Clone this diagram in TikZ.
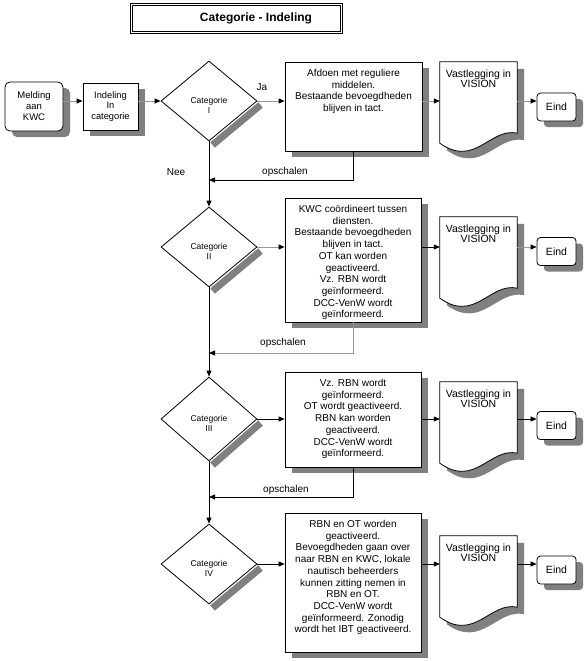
\documentclass[tikz,border=0pt]{standalone}
\usepackage{fontspec}
\setmainfont{Liberation Sans}
\usetikzlibrary{shapes.geometric,shadows,arrows.meta}
\definecolor{shd}{RGB}{128,128,128}
\definecolor{lgr}{RGB}{150,150,150}
\newcommand{\docpath}[3]{([shift={(#2,#3)}]#1.north west) -- ([shift={(#2,#3)}]#1.north east) -- ([shift={(#2,#3)},yshift=10pt]#1.south east) .. controls ([shift={(#2,#3)},xshift=-27pt,yshift=16pt]#1.south east) and ([shift={(#2,#3)},xshift=35pt,yshift=-25pt]#1.south west) .. ([shift={(#2,#3)}]#1.south west) -- cycle}
\begin{document}
\begin{tikzpicture}[x=1pt,y=-1pt,
  shadowed/.style={drop shadow={shadow xshift=7pt,shadow yshift=-6pt,fill=shd,opacity=1}},
  box/.style={draw,fill=white,line width=0.8pt,inner sep=0pt,shadowed},
  btxt/.style={font=\fontsize{10}{11.7}\selectfont,align=center,inner sep=1pt,anchor=north},
  dtxt/.style={font=\fontsize{10.5}{10.5}\selectfont,align=center,inner sep=1pt,anchor=north},
  diam/.style={diamond,draw,fill=white,line width=0.8pt,minimum width=96pt,minimum height=80pt,inner sep=0pt},
  dlab/.style={font=\fontsize{8.5}{10}\selectfont,align=center,yshift=-4.5pt},
  docn/.style={minimum width=77pt,minimum height=81pt,inner sep=0pt},
  eind/.style={box,rounded corners=3.5pt,minimum width=39pt,minimum height=28pt,font=\fontsize{10.5}{12}\selectfont},
  lbl/.style={font=\fontsize{10}{12}\selectfont,inner sep=0pt},
  arr/.style={line width=0.8pt,-{Triangle[length=6pt,width=5pt,color=black]}},
  arrg/.style={arr,draw=lgr},
  band/.style={draw=shd,line width=7pt,line cap=butt}]
\useasboundingbox (0,0) rectangle (586,661);

% title
\node[draw,double,double distance=1.2pt,line width=0.7pt,minimum width=210.4pt,minimum height=28.4pt,inner sep=0pt] (tbox) at (236.5,18.5) {};
\node[font=\fontsize{12}{14}\selectfont\bfseries,inner sep=0pt] (ttl) at (256,18.5) {Categorie - Indeling};

% start
\node[box,rounded corners=5pt,minimum width=58pt,minimum height=49pt,font=\fontsize{9.5}{11}\selectfont,align=center] (mel) at (34,106.5) {Melding\\aan\\KWC};
\node[box,minimum width=55pt,minimum height=47pt,font=\fontsize{9.3}{10.8}\selectfont,align=center] (ind) at (110.5,106.5) {Indeling\\In\\categorie};

% diamond shadow bands (drawn first, under the diamonds)
\coordinate (k1) at (209,101);
\coordinate (k2) at (209,247);
\coordinate (k3) at (209,419);
\coordinate (k4) at (209,564);
\draw[band] ([shift={(51.5pt,-4pt)}]k1) -- ([shift={(3.5pt,-44pt)}]k1);
\draw[band] ([shift={(51.5pt,-4pt)}]k2) -- ([shift={(3.5pt,-44pt)}]k2);
\draw[band] ([shift={(51.5pt,-4pt)}]k3) -- ([shift={(3.5pt,-46pt)}]k3);
\draw[band] ([shift={(51.5pt,-4pt)}]k4) -- ([shift={(3.5pt,-44pt)}]k4);

% diamonds
\node[diam,label={[dlab]center:{Categorie\\I}}] (c1) at (k1) {};
\node[diam,label={[dlab]center:{Categorie\\II}}] (c2) at (k2) {};
\node[diam,minimum height=84pt,label={[dlab]center:{Categorie\\III}}] (c3) at (k3) {};
\node[diam,label={[dlab]center:{Categorie\\IV}}] (c4) at (k4) {};

% action boxes
\node[box,minimum width=137pt,minimum height=89pt] (b1) at (353.5,106.5) {};
\node[box,minimum width=136pt,minimum height=124pt] (b2) at (353,260) {};
\node[box,minimum width=136pt,minimum height=95pt] (b3) at (353,419.5) {};
\node[box,minimum width=136pt,minimum height=139pt] (b4) at (353,582.5) {};
\node[btxt] (t1) at ([yshift=-6.5pt]b1.north) {Afdoen met reguliere\\middelen.\\Bestaande bevoegdheden\\blijven in tact.};
\node[btxt] (t2) at ([yshift=-6.5pt]b2.north) {KWC coördineert tussen\\diensten.\\Bestaande bevoegdheden\\blijven in tact.\\OT kan worden\\geactiveerd.\\Vz. RBN wordt\\geïnformeerd.\\DCC-VenW wordt\\geïnformeerd.};
\node[btxt] (t3) at ([yshift=-6.5pt]b3.north) {Vz. RBN wordt\\geïnformeerd.\\OT wordt geactiveerd.\\RBN kan worden\\geactiveerd.\\DCC-VenW wordt\\geïnformeerd.};
\node[btxt] (t4) at ([yshift=-6.5pt]b4.north) {RBN en OT worden\\geactiveerd.\\Bevoegdheden gaan over\\naar RBN en KWC, lokale\\nautisch beheerders\\kunnen zitting nemen in\\RBN en OT.\\DCC-VenW wordt\\geïnformeerd. Zonodig\\wordt het IBT geactiveerd.};

% documents
\node[docn] (d1) at (478.5,102.5) {};
\node[docn] (d2) at (478.5,257.5) {};
\node[docn] (d3) at (478.5,422.5) {};
\node[docn] (d4) at (478.5,576.5) {};
\foreach \d in {d1,d2,d3,d4}{
  \fill[shd] \docpath{\d}{7pt}{-7pt};
  \draw[fill=white,line width=0.8pt] \docpath{\d}{0pt}{0pt};
}
\node[dtxt] (v1) at ([yshift=-6.5pt]d1.north) {Vastlegging in\\VISION};
\node[dtxt] (v2) at ([yshift=-6.5pt]d2.north) {Vastlegging in\\VISION};
\node[dtxt] (v3) at ([yshift=-6.5pt]d3.north) {Vastlegging in\\VISION};
\node[dtxt] (v4) at ([yshift=-6.5pt]d4.north) {Vastlegging in\\VISION};

% end boxes
\node[eind] (e1) at (556.5,107) {Eind};
\node[eind] (e2) at (556.5,251.5) {Eind};
\node[eind] (e3) at (556.5,425.5) {Eind};
\node[eind] (e4) at (556.5,570) {Eind};

% row connectors
\draw[arrg] (mel.east |- c1) -- (ind.west |- c1);
\draw[arrg] (ind.east |- c1) -- (c1.west);
\draw[arrg] (c1.east) -- (b1.west |- c1);
\draw[arrg] (b1.east |- c1) -- (d1.west |- c1);
\draw[arrg] (d1.east |- c1) -- (e1.west |- c1);

\draw[arrg] (c2.east) -- (b2.west |- c2);
\draw[arr] (b2.east |- c2) -- (d2.west |- c2);
\draw[arrg] (d2.east |- c2) -- (e2.west |- c2);

\draw[arr] (c3.east) -- (b3.west |- c3);
\draw[arr] (b3.east |- c3) -- (d3.west |- c3);
\draw[arr] (d3.east |- c3) -- (e3.west |- c3);

\draw[arr] (c4.east) -- (b4.west |- c4);
\draw[arr] (b4.east |- c4) -- (d4.west |- c4);
\draw[arr] (d4.east |- c4) -- (e4.west |- c4);

% vertical flow
\draw[arr] (c1.south) -- (c2.north);
\draw[arr] (c2.south) -- (c3.north);
\draw[arr] (c3.south) -- (c4.north);

% escalation
\coordinate (m1) at (209,180);
\coordinate (m2) at (209,353);
\coordinate (m3) at (209,497);
\draw[arr] (b1.south) |- (m1);
\draw[arrg] (b2.south) |- (m2);
\draw[arr] (b3.south) |- (m3);

% labels
\node[lbl] (ja) at (262,87) {Ja};
\node[lbl] (nee) at (176,172) {Nee};
\node[lbl] (op1) at (285,172) {opschalen};
\node[lbl] (op2) at (283,343) {opschalen};
\node[lbl] (op3) at (286,490) {opschalen};
\end{tikzpicture}
\end{document}
